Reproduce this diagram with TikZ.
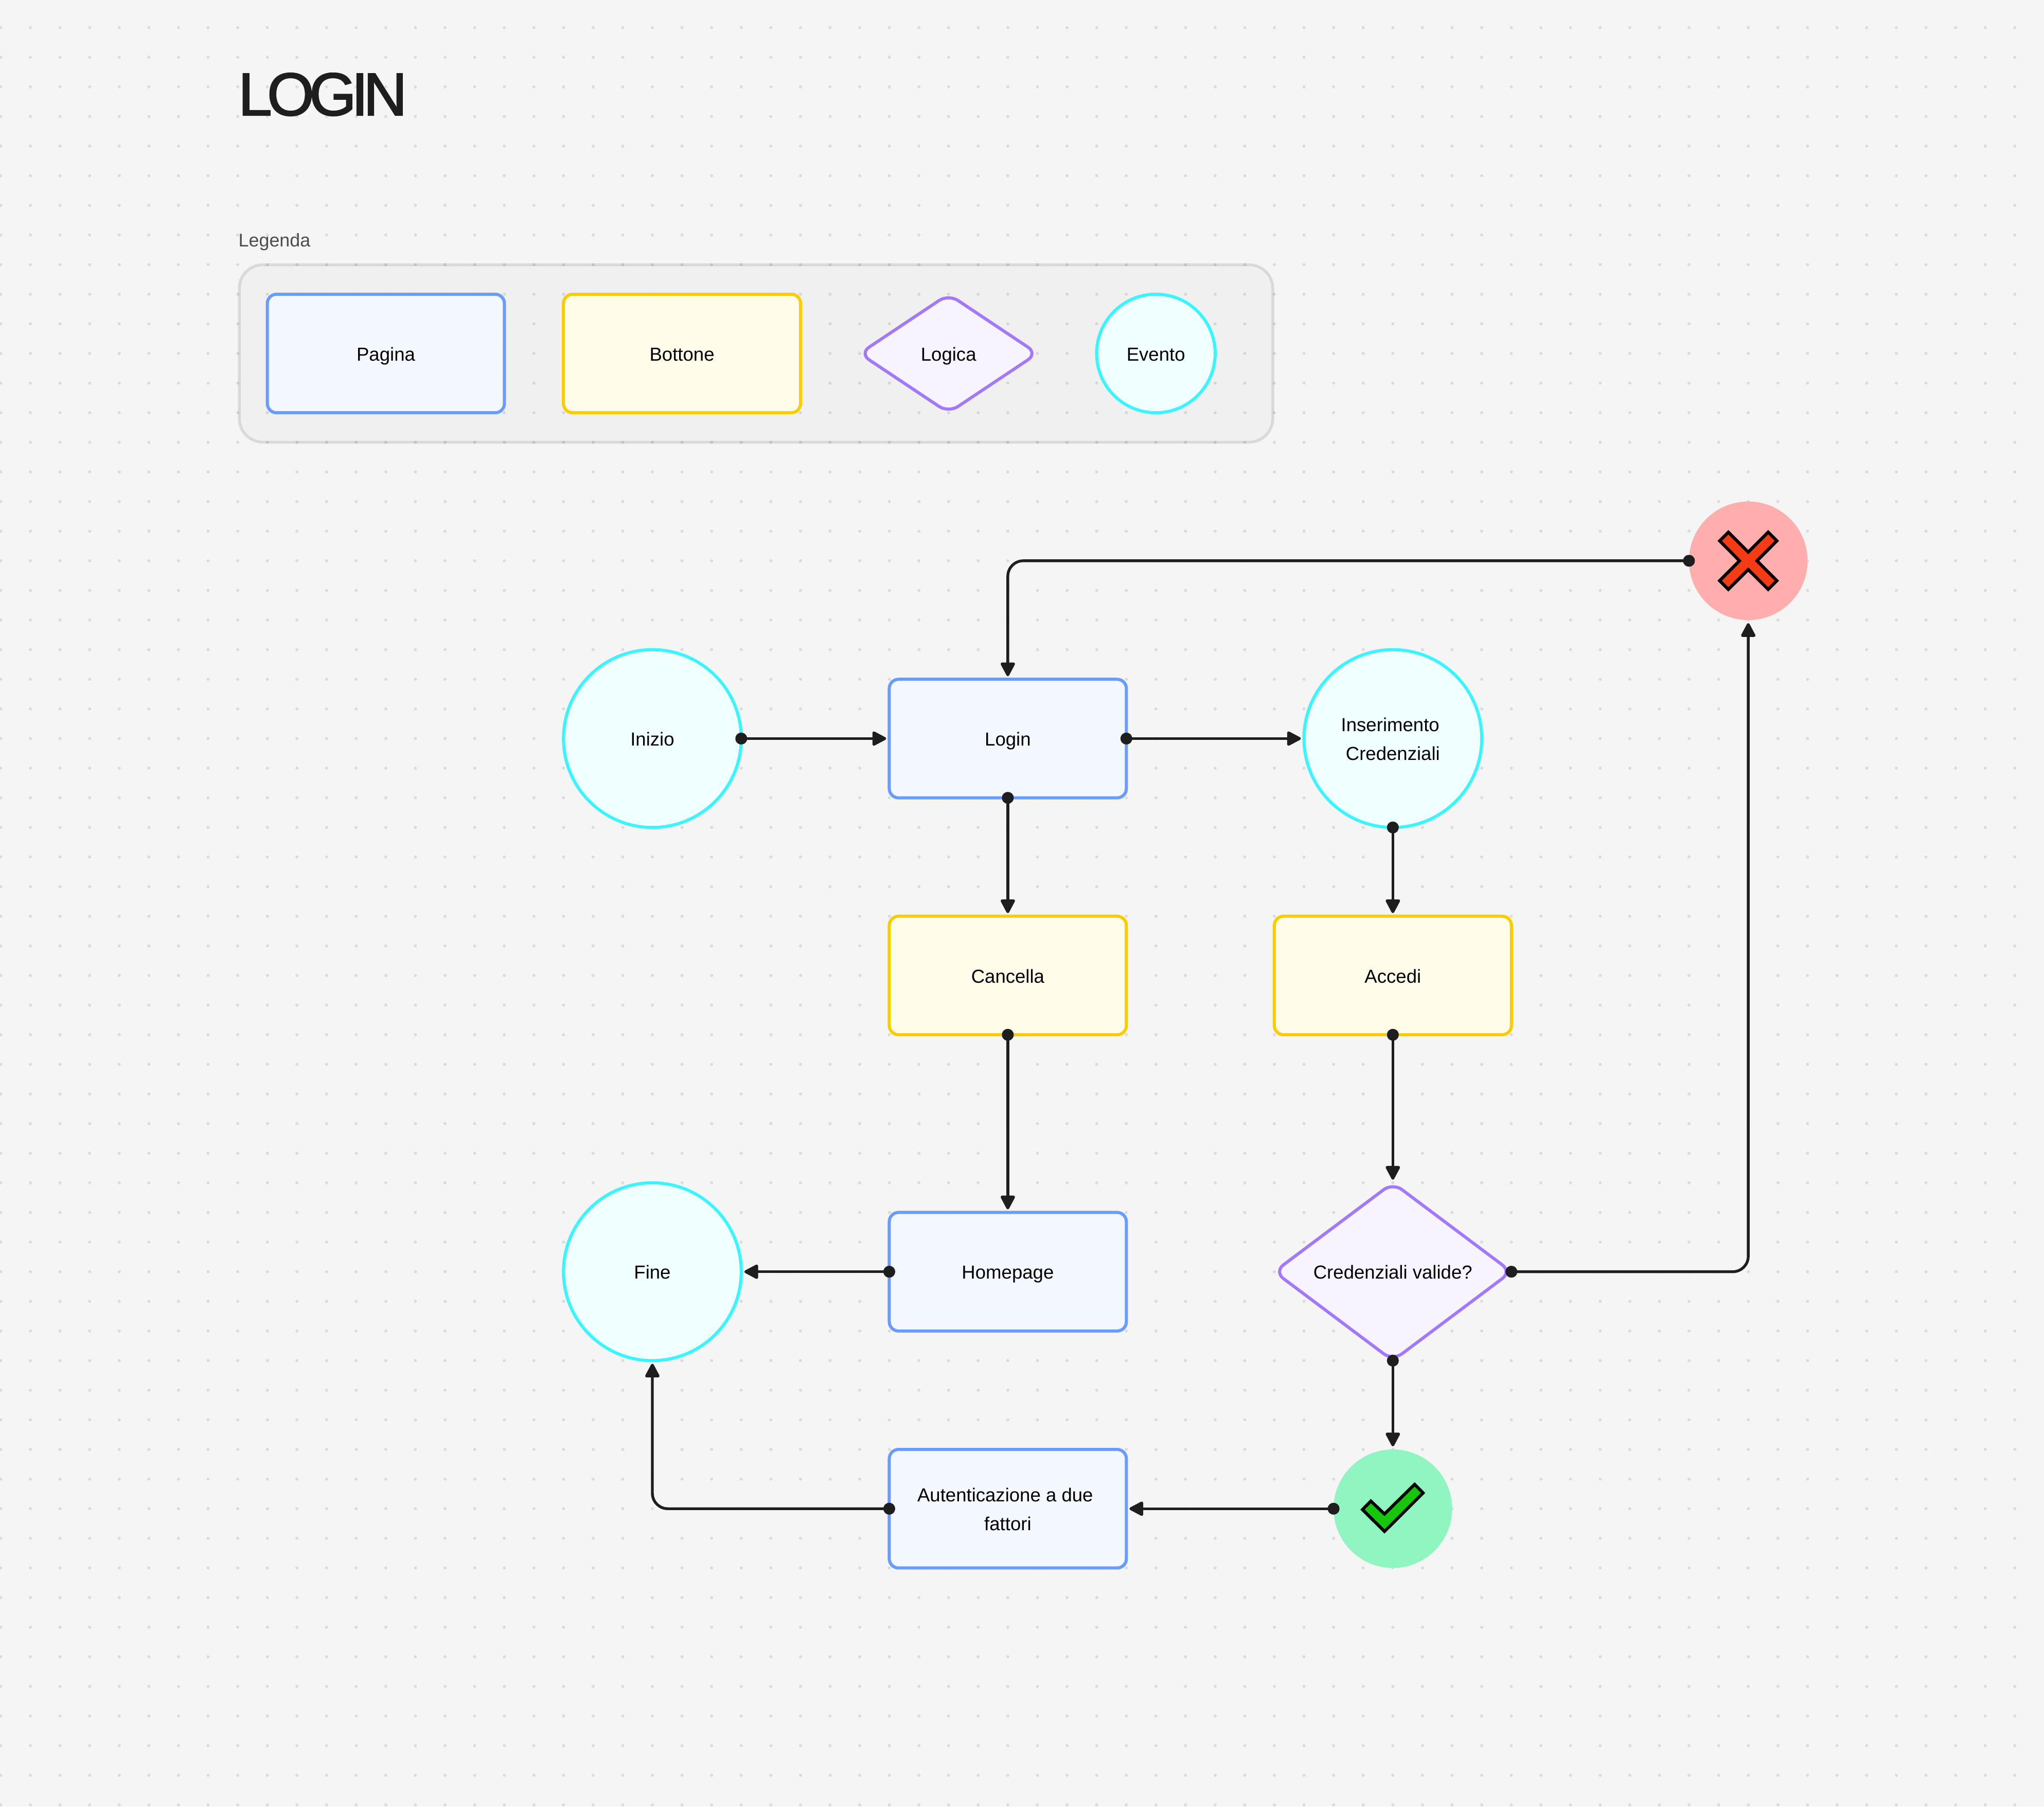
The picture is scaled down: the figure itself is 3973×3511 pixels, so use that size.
\documentclass[tikz,border=0pt]{standalone}
\usepackage{fontspec}
\setmainfont{Liberation Sans}
\newfontfamily\titlefont[LetterSpace=-8,FakeBold=2]{Liberation Sans}
\usetikzlibrary{arrows.meta,shapes.geometric}
\definecolor{sheetbg}{HTML}{F5F5F5}
\definecolor{griddot}{HTML}{DBDBDB}
\definecolor{inkdark}{HTML}{1E1E1E}
\definecolor{pagefill}{HTML}{F3F8FF}
\definecolor{pageline}{HTML}{6A9BFF}
\definecolor{buttonfill}{HTML}{FFFCE9}
\definecolor{buttonline}{HTML}{FBCC00}
\definecolor{logicfill}{HTML}{F7F4FF}
\definecolor{logicline}{HTML}{A278FF}
\definecolor{eventfill}{HTML}{F0FFFF}
\definecolor{eventline}{HTML}{3AF5FF}
\definecolor{errfill}{HTML}{FFAEAE}
\definecolor{errmark}{HTML}{F43B14}
\definecolor{okfill}{HTML}{90F5C0}
\definecolor{okmark}{HTML}{15C60C}

\begin{document}
\begin{tikzpicture}[x=0.01cm,y=-0.01cm,
    label/.style={font=\fontsize{10.4}{15.9}\selectfont,align=center,inner sep=0pt,outer sep=0pt,line width=0.06cm,text height=11pt,text depth=3pt},
    twolines/.style={text height=26.9pt,text depth=3pt},
    pagebox/.style={label,draw=pageline,fill=pagefill,rounded corners=0.18cm,minimum width=4.606cm,minimum height=2.303cm},
    buttonbox/.style={label,draw=buttonline,fill=buttonfill,rounded corners=0.18cm,minimum width=4.606cm,minimum height=2.303cm},
    logicbox/.style={label,diamond,draw=logicline,fill=logicfill,rounded corners=0.22cm},
    eventdot/.style={label,circle,draw=eventline,fill=eventfill},
    statedot/.style={circle,inner sep=0pt,outer sep=0pt,minimum size=2.303cm},
    markline/.style={draw=black,line width=0.06cm,miter limit=10},
    link/.style={draw=inkdark,line width=0.054cm,rounded corners=0.3cm,
      {Circle[length=0.23cm]}-{Triangle[length=0.3cm,width=0.3cm,round]},
      shorten <=-0.115cm,shorten >=0.06cm}]
  \useasboundingbox (0,0) rectangle (3973,3511);
  \fill[sheetbg] (0,0) rectangle (3973,3511);
  \foreach \i in {0,...,68}
    \foreach \j in {1,...,61}
      \fill[griddot] ({1.5+57.57*\i},{-3.9+57.57*\j}) circle (3);

  \node[anchor=base west,inner sep=0pt,text=inkdark,font=\titlefont\fontsize{33.4}{33.4}\selectfont] (title) at (462.5,224) {LOGIN};
  \node[anchor=base west,inner sep=0pt,text=black!70,font=\fontsize{10.2}{12}\selectfont] (legendtitle) at (463,479) {Legenda};
  \filldraw[fill=black,fill opacity=0.02,draw=black,draw opacity=0.1,line width=0.055cm,rounded corners=0.46cm] (465,514.5) rectangle (2474,859.5);

  \node[pagebox] (pagekey) at (750,687) {Pagina};
  \node[buttonbox] (buttonkey) at (1325.6,687) {Bottone};
  \node[logicbox,aspect=1.5,minimum width=3.454cm,minimum height=2.303cm] (logickey) at (1843.7,687) {Logica};
  \node[eventdot,minimum size=2.303cm] (eventkey) at (2246.7,687) {Evento};

  \node[eventdot,minimum size=3.454cm] (inizio) at (1268,1435.4) {Inizio};
  \node[pagebox] (login) at (1958.9,1435.4) {Login};
  \node[eventdot,twolines,minimum size=3.454cm] (inserimento) at (2707.3,1435.4) {Inserimento\kern2.9pt\\Credenziali};
  \node[buttonbox] (cancella) at (1958.9,1895.9) {Cancella};
  \node[buttonbox] (accedi) at (2707.3,1895.9) {Accedi};
  \node[pagebox] (homepage) at (1958.9,2471.6) {Homepage};
  \node[eventdot,minimum size=3.454cm] (fine) at (1268,2471.6) {Fine};
  \node[logicbox,aspect=1.333,minimum width=4.606cm,minimum height=3.454cm] (valide) at (2707.3,2471.6) {Credenziali valide?};
  \node[pagebox,twolines] (dueFattori) at (1958.9,2932.2) {Autenticazione a due\kern2.9pt\\fattori};
  \node[statedot,fill=errfill] (err) at (3398.1,1089.9) {};
  \node[statedot,fill=okfill] (ok) at (2707.3,2932.2) {};

  \draw[markline,fill=errmark,shift={(err.center)}] (38.7,55.6) -- (55.6,38.7) -- (17,0) -- (55.6,-38.7) -- (38.7,-55.6) -- (0,-17)
    -- (-38.7,-55.6) -- (-55.6,-38.7) -- (-17,0) -- (-55.6,38.7) -- (-38.7,55.6) -- (0,17) -- cycle;
  \draw[markline,fill=okmark,shift={(ok.center)}] (42.3,-47.3) -- (58.7,-30.7) -- (-16.3,44.2) -- (-59,1.7) -- (-42.7,-14.8) -- (-16.3,10.3) -- cycle;

  \draw[link] (inizio.east) -- (login.west);
  \draw[link] (login.east) -- (inserimento.west);
  \draw[link] (login.south) -- (cancella.north);
  \draw[link] (inserimento.south) -- (accedi.north);
  \draw[link] (cancella.south) -- (homepage.north);
  \draw[link] (accedi.south) -- (valide.north);
  \draw[link] (homepage.west) -- (fine.east);
  \draw[link] (valide.south) -- (ok.north);
  \draw[link] (ok.west) -- (dueFattori.east);
  \draw[link] (dueFattori.west) -| (fine.south);
  \draw[link] (valide.east) -| (err.south);
  \draw[link] (err.west) -| (login.north);
\end{tikzpicture}
\end{document}
